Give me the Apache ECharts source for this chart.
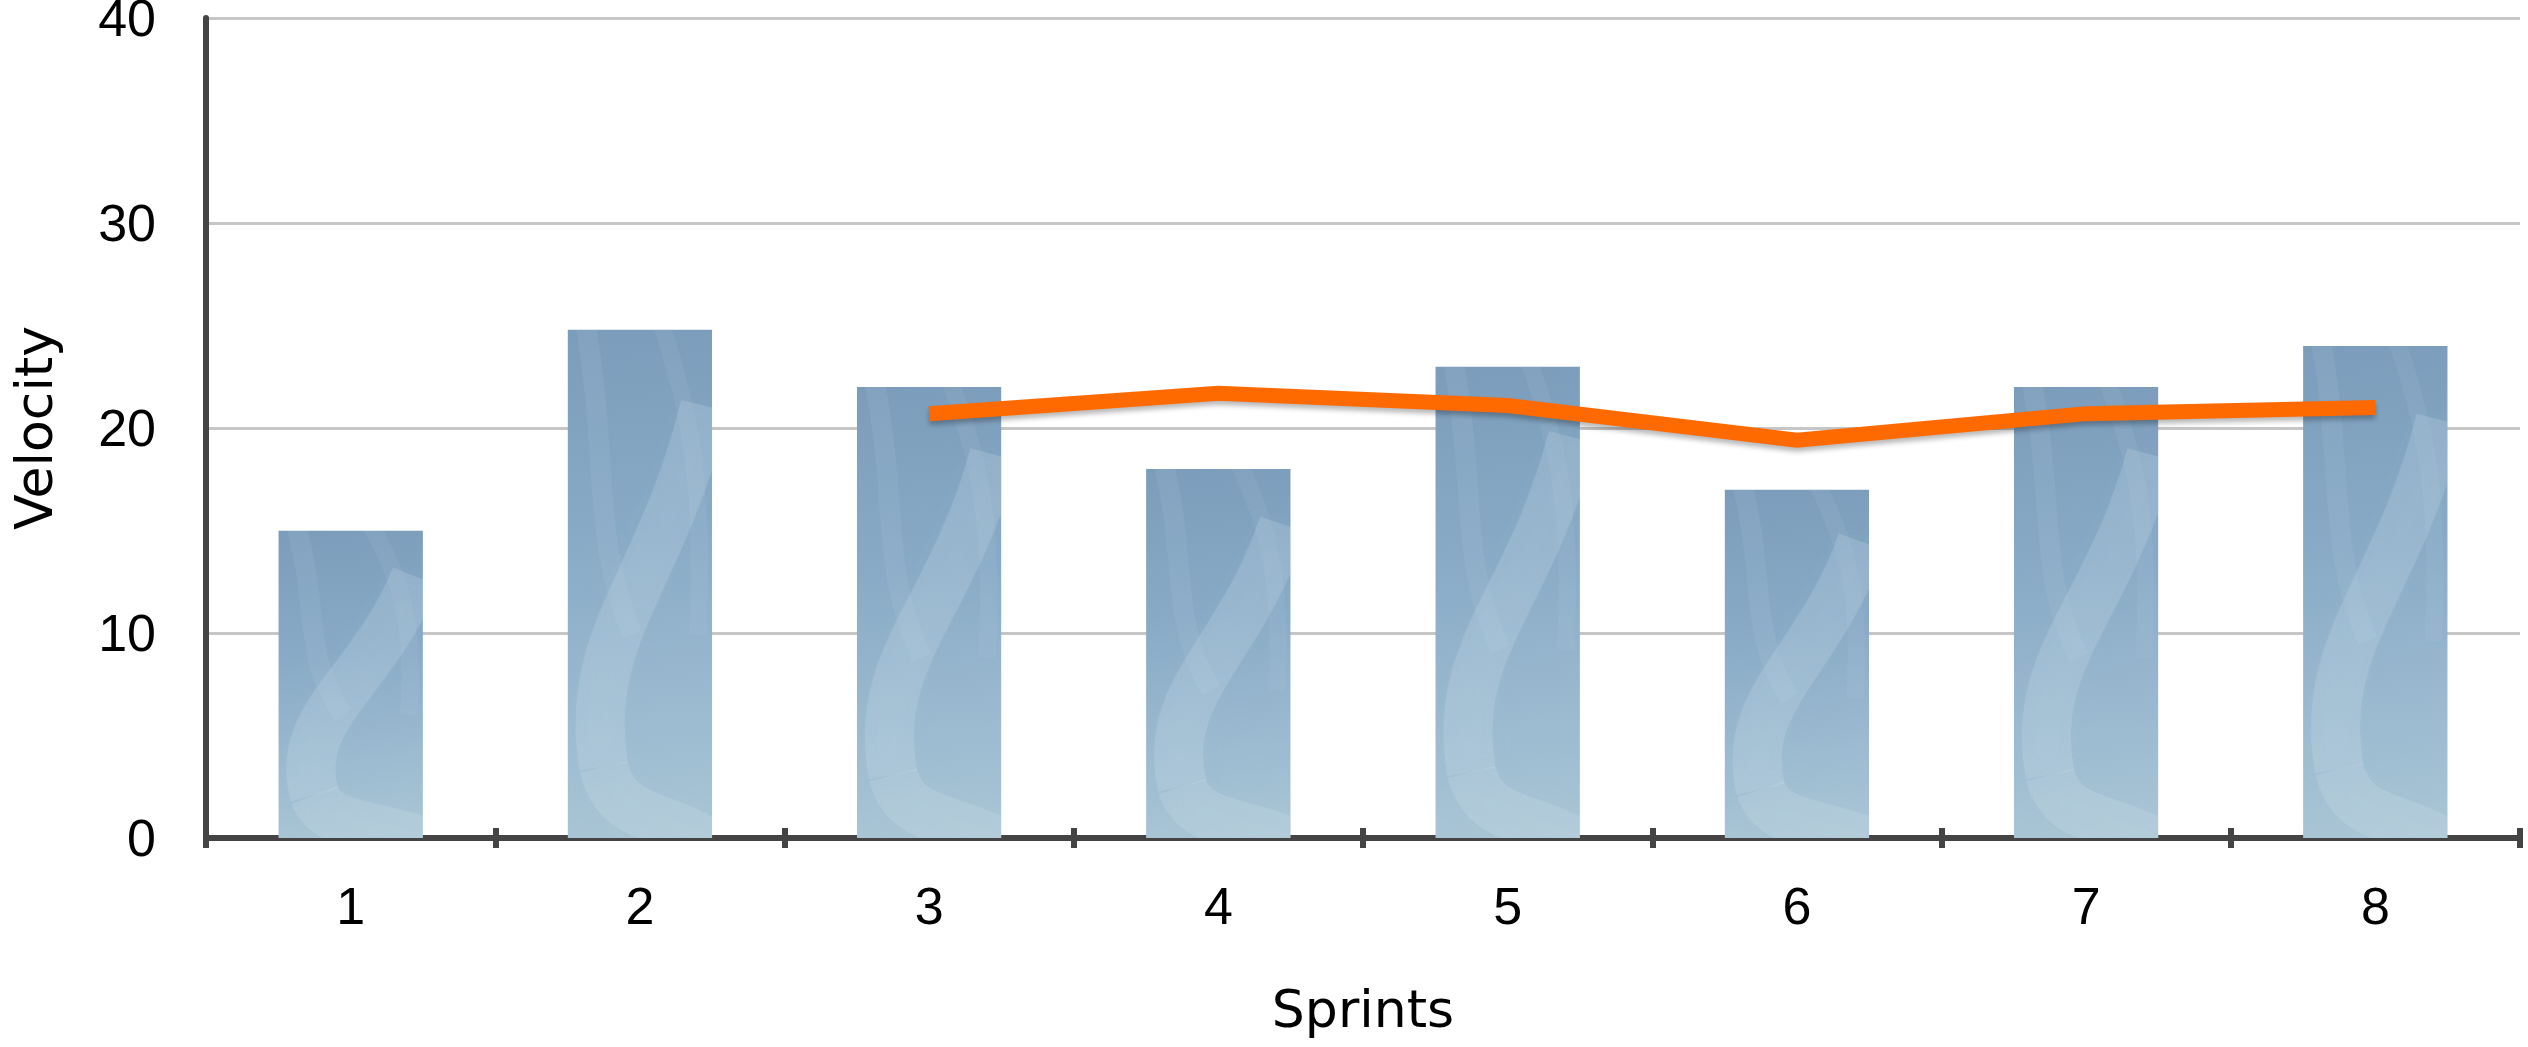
<!DOCTYPE html>
<html>
<head>
<meta charset="utf-8">
<title>Sprint Velocity</title>
<script src="https://cdn.jsdelivr.net/npm/echarts@6/dist/echarts.min.js"></script>
<style>
  html, body { margin: 0; padding: 0; background: #ffffff; }
  #chart { width: 2528px; height: 1047px; }
</style>
</head>
<body>
<div id="chart"></div>
<script>
// Sprint numbers along the x axis
const sprints = ['1', '2', '3', '4', '5', '6', '7', '8'];
// Velocity completed per sprint (bars)
const velocity = [15, 24.8, 22, 18, 23, 17, 22, 24];
// Rolling average velocity (line, starts at sprint 3)
const rollingAverage = [null, null, 20.7, 21.7, 21.1, 19.4, 20.7, 21.0];
// Value axis range
const yMin = 0;
const yMax = 40;
const yStep = 10;

const tickFont = '"Liberation Sans", Arial, Helvetica, sans-serif';
const nameFont = '"DejaVu Sans", "Liberation Sans", sans-serif';
const axisColor = '#444444';

// Each bar is a painted-blue panel: darker at the top, paler toward the base,
// with a few soft lighter brush sweeps laid over it.
function renderBar(params, api) {
  const idx = api.value(0);
  const val = api.value(1);
  const base = api.coord([idx, 0]);
  const top = api.coord([idx, val]);
  const w = api.size([1, 0])[0] * 0.5;
  const x0 = base[0] - w / 2;
  const y0 = top[1];
  const h = base[1] - top[1];
  const P = (u, v) => [x0 + u * w, y0 + v * h];

  const fill = new echarts.graphic.LinearGradient(0, 0, 0.3, 1, [
    { offset: 0, color: '#7b9dbb' },
    { offset: 0.4, color: '#88aac6' },
    { offset: 0.75, color: '#9bbad0' },
    { offset: 1, color: '#a9c5d5' }
  ]);

  const sweep = (a, c1, c2, b, width, alpha, blur) => {
    const pa = P(a[0], a[1]), p1 = P(c1[0], c1[1]), p2 = P(c2[0], c2[1]), pb = P(b[0], b[1]);
    const col = 'rgba(214,230,238,' + alpha + ')';
    return {
      type: 'bezierCurve',
      shape: { x1: pa[0], y1: pa[1], cpx1: p1[0], cpy1: p1[1], cpx2: p2[0], cpy2: p2[1], x2: pb[0], y2: pb[1] },
      style: {
        fill: null,
        stroke: col,
        lineWidth: w * width,
        lineCap: 'butt',
        shadowBlur: blur,
        shadowColor: col
      }
    };
  };

  return {
    type: 'group',
    clipPath: { type: 'rect', shape: { x: x0, y: y0, width: w, height: h } },
    children: [
      { type: 'rect', shape: { x: x0, y: y0, width: w, height: h }, style: { fill: fill } },
      sweep([0.95, 0.15], [0.65, 0.50], [0.10, 0.60], [0.25, 0.86], 0.34, 0.20, 30),
      sweep([0.25, 0.86], [0.35, 0.98], [0.70, 0.94], [1.20, 1.05], 0.34, 0.20, 30),
      sweep([0.10, -0.05], [0.30, 0.25], [0.15, 0.40], [0.45, 0.60], 0.14, 0.08, 20),
      sweep([0.60, -0.05], [0.85, 0.15], [0.95, 0.30], [0.90, 0.60], 0.12, 0.07, 20)
    ]
  };
}

const barData = velocity.map((v, i) => [i, v]);

const chart = echarts.init(document.getElementById('chart'), null, { renderer: 'canvas' });

chart.setOption({
  animation: false,
  backgroundColor: '#ffffff',
  grid: { left: 206, right: 8, top: 18, bottom: 209, containLabel: false, outerBoundsMode: 'none' },
  xAxis: [
    {
      type: 'category',
      data: sprints,
      boundaryGap: true,
      name: 'Sprints',
      nameLocation: 'middle',
      nameGap: 149,
      nameTextStyle: { fontFamily: nameFont, fontSize: 52, color: '#000000' },
      axisLine: { show: true, lineStyle: { color: axisColor, width: 6 } },
      axisTick: { show: true, inside: false, length: 10, interval: 0, lineStyle: { color: axisColor, width: 6 } },
      axisLabel: { show: true, margin: 46, fontFamily: tickFont, fontSize: 52, color: '#000000', interval: 0 },
      splitLine: { show: false }
    },
    {
      // second copy of the category axis, only for the upward half of each tick
      type: 'category',
      data: sprints,
      boundaryGap: true,
      position: 'bottom',
      axisLine: { show: false },
      axisTick: { show: true, inside: true, length: 10, interval: 0, lineStyle: { color: axisColor, width: 6 } },
      axisLabel: { show: false },
      splitLine: { show: false }
    }
  ],
  yAxis: {
    type: 'value',
    min: yMin,
    max: yMax,
    interval: yStep,
    name: 'Velocity',
    nameLocation: 'middle',
    nameGap: 142,
    nameRotate: 90,
    nameTextStyle: { fontFamily: nameFont, fontSize: 52, color: '#000000' },
    axisLine: { show: true, lineStyle: { color: axisColor, width: 6 } },
    axisTick: { show: false },
    axisLabel: {
      margin: 50,
      formatter: '{v|{value}}',
      rich: {
        v: { fontFamily: tickFont, fontSize: 52, color: '#000000', padding: [8, 0, 0, 0] }
      }
    },
    splitLine: { show: true, lineStyle: { color: '#c6c6c6', width: 3 } }
  },
  series: [
    {
      name: 'Velocity',
      type: 'custom',
      xAxisIndex: 0,
      data: barData,
      encode: { x: 0, y: 1 },
      renderItem: renderBar,
      z: 2
    },
    {
      name: 'Average',
      type: 'line',
      xAxisIndex: 0,
      data: rollingAverage,
      showSymbol: false,
      symbol: 'none',
      connectNulls: false,
      lineStyle: {
        color: '#ff6a00',
        width: 15,
        cap: 'butt',
        join: 'miter',
        shadowColor: 'rgba(0,0,0,0.28)',
        shadowBlur: 5,
        shadowOffsetY: 4
      },
      z: 5
    }
  ]
});
</script>
</body>
</html>
